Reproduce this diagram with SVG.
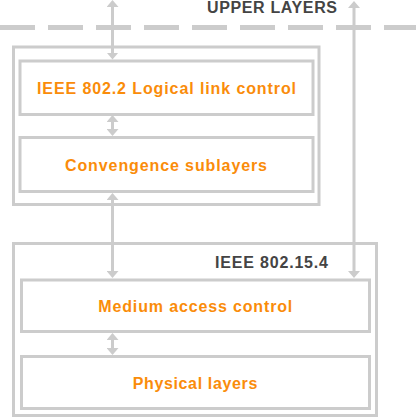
<svg xmlns="http://www.w3.org/2000/svg" width="416" height="418" viewBox="0 0 416 418">
<style>
.box{fill:#ffffff;stroke:#cccccc;stroke-width:3}
.frame{fill:none;stroke:#cccccc;stroke-width:3}
.lbl{font-family:"Liberation Sans",Arial,sans-serif;font-weight:bold;font-size:16px;fill:#fa8c0a}
.dark{font-family:"Liberation Sans",Arial,sans-serif;font-weight:bold;font-size:16px;fill:#444444}
.conn{stroke:#cccccc;stroke-width:3;fill:none;marker-start:url(#ah);marker-end:url(#ah)}
</style>
<defs>
<marker id="ah" viewBox="0 0 7 12" refX="3" refY="6" markerWidth="7" markerHeight="12" markerUnits="userSpaceOnUse" orient="auto-start-reverse">
<path d="M0,0 L7,6 L0,12 z" fill="#cccccc"/>
</marker>
</defs>
<rect width="416" height="418" fill="#ffffff"/>
<line x1="0" y1="27.5" x2="416" y2="27.5" stroke="#cccccc" stroke-width="5" stroke-dasharray="35 13"/>
<text class="dark" x="207" y="13" textLength="130" lengthAdjust="spacing">UPPER LAYERS</text>
<g id="stack-top">
<rect class="frame" x="13.5" y="47" width="305.5" height="157.5"/>
</g>
<g id="llc">
<rect class="box" x="20" y="61" width="293" height="53.5"/>
<text class="lbl" x="37" y="93.5" textLength="259" lengthAdjust="spacing">IEEE 802.2 Logical link control</text>
</g>
<g id="convergence">
<rect class="box" x="20" y="137.5" width="293" height="54"/>
<text class="lbl" x="65" y="170.7" textLength="202" lengthAdjust="spacing">Convengence sublayers</text>
</g>
<g id="ieee802154">
<rect class="frame" x="13.5" y="243.5" width="363" height="172"/>
<text class="dark" x="215" y="267.7" textLength="113" lengthAdjust="spacing">IEEE 802.15.4</text>
</g>
<g id="mac">
<rect class="box" x="21.5" y="280" width="348" height="51.5"/>
<text class="lbl" x="98.3" y="311.7" textLength="194" lengthAdjust="spacing">Medium access control</text>
</g>
<g id="phy">
<rect class="box" x="21.5" y="356.5" width="348" height="52"/>
<text class="lbl" x="132.7" y="389" textLength="124.6" lengthAdjust="spacing">Physical layers</text>
</g>
<g id="connectors">
<line class="conn" x1="112.5" y1="4" x2="112.5" y2="55.5"/>
<line class="conn" x1="112.5" y1="119" x2="112.5" y2="132"/>
<line class="conn" x1="112.5" y1="197" x2="112.5" y2="274"/>
<line class="conn" x1="354" y1="5" x2="354" y2="274"/>
<line class="conn" x1="112.5" y1="337" x2="112.5" y2="351"/>
</g>
</svg>
